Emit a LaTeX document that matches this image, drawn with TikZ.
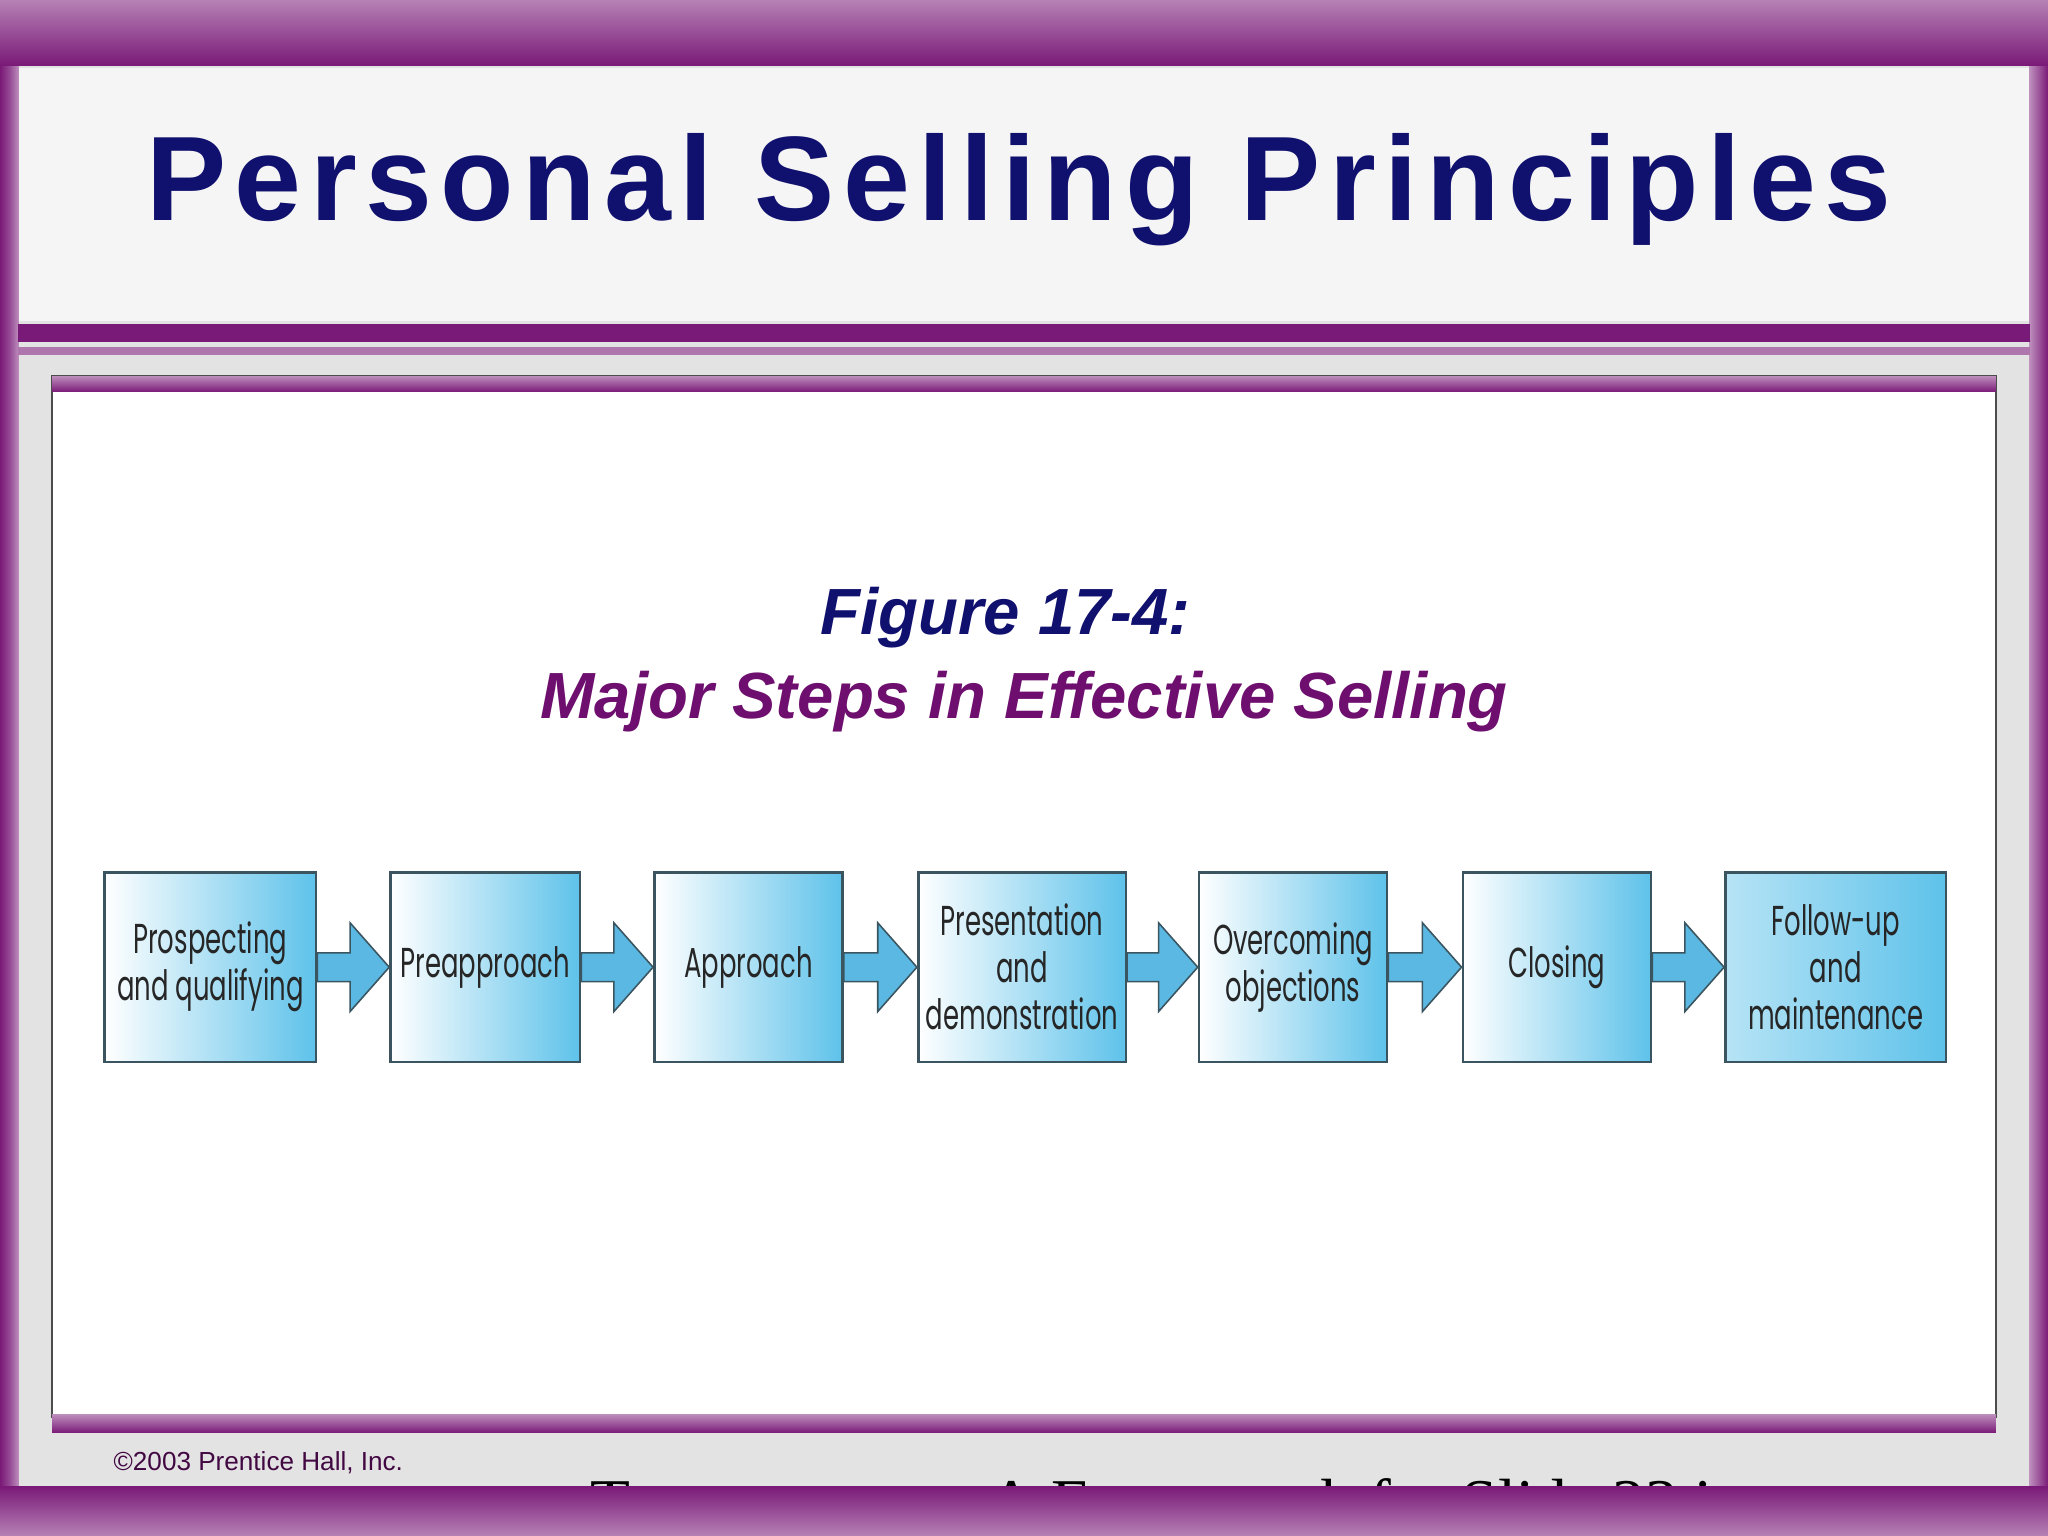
\documentclass[tikz,border=0pt]{standalone}
\usepackage{fontspec}
\setmainfont{Liberation Sans}
\newfontfamily\boxfont[FakeStretch=0.62]{Poppins}
\newfontfamily\serifft{Liberation Serif}
\usetikzlibrary{calc}
\definecolor{navy}{HTML}{10106E}
\definecolor{plum}{HTML}{6E0E6E}
\definecolor{framep}{HTML}{7A1A78}
\definecolor{boxblue}{HTML}{5EC2EA}
\definecolor{arrblue}{HTML}{5BB8E2}
\definecolor{edge}{HTML}{3A5560}
\tikzset{
  stepbox/.style={draw=edge,line width=1pt,left color=white,right color=boxblue,minimum height=72.5pt,inner sep=0pt,font=\boxfont\fontsize{16}{18}\selectfont,align=center,anchor=north west,text=black!85},
  blockarr/.style={fill=arrblue,draw=edge,line width=0.6pt}
}
\newcommand{\blockarrow}[2]{%
  \draw[blockarr] ($(#1.east)+(0,-11)$) -- ($(#2.west)+(-30,-11)$) -- ($(#2.west)+(-30,-34)$) -- (#2.west) -- ($(#2.west)+(-30,34)$) -- ($(#2.west)+(-30,11)$) -- ($(#1.east)+(0,11)$) -- cycle;}
\begin{document}
\begin{tikzpicture}[x=0.5pt,y=-0.5pt]
\useasboundingbox (0,0) rectangle (1568,1176);
\fill[gray!22] (0,0) rectangle (1568,1176);
\fill[white!92!gray] (14,52) rectangle (1554,246);
\fill[left color=framep,right color=framep!50,middle color=framep!80] (0,0) rectangle (14,1176);
\fill[left color=framep!50,right color=framep] (1554,0) rectangle (1568,1176);
\fill[top color=framep!55,bottom color=framep] (0,0) rectangle (1568,50);
\fill[framep] (14,248) rectangle (1554,262);
\fill[framep!60] (14,266) rectangle (1554,272);
\node (title) at (780,145) {\color{navy}\bfseries\addfontfeature{LetterSpace=7}\fontsize{46}{46}\selectfont Personal Selling Principles};
\fill[white] (40,288) rectangle (1528,1085);
\draw[black!70,line width=0.6pt] (40,288) rectangle (1528,1085);
\fill[top color=framep!50,bottom color=framep] (40,288) rectangle (1528,300);
\fill[top color=framep!50,bottom color=framep] (40,1083) rectangle (1528,1097);
\node (fig) at (770,473) {\color{navy}\bfseries\itshape\fontsize{25}{25}\selectfont Figure 17-4:};
\node (sub) at (784,537) {\color{plum}\bfseries\itshape\fontsize{25}{25}\selectfont Major Steps in Effective Selling};
\node[stepbox,minimum width=81pt] (b1) at (79,667) {Prospecting\\and qualifying};
\node[stepbox,minimum width=72.5pt] (b2) at (298,667) {Preapproach};
\node[stepbox,minimum width=72pt] (b3) at (500,667) {Approach};
\node[stepbox,minimum width=79.5pt] (b4) at (702,667) {Presentation\\and\\demonstration};
\node[stepbox,minimum width=72pt] (b5) at (917,667) {Overcoming\\objections};
\node[stepbox,minimum width=72pt] (b6) at (1119,667) {Closing};
\node[stepbox,minimum width=84.5pt,left color=boxblue!45] (b7) at (1320,667) {Follow-up\\and\\maintenance};
\blockarrow{b1}{b2}
\blockarrow{b2}{b3}
\blockarrow{b3}{b4}
\blockarrow{b4}{b5}
\blockarrow{b5}{b6}
\blockarrow{b6}{b7}
\node[anchor=west] (copy) at (80,1120) {\color{plum!60!black}\fontsize{10}{10}\selectfont \textcopyright2003 Prentice Hall, Inc.};
\node[anchor=west] (acc) at (445,1155) {\serifft\fontsize{25}{25}\selectfont To accompany A Framework for Slide 23 in};
\fill[top color=framep,bottom color=framep!55] (0,1138) rectangle (1568,1176);
\end{tikzpicture}
\end{document}
